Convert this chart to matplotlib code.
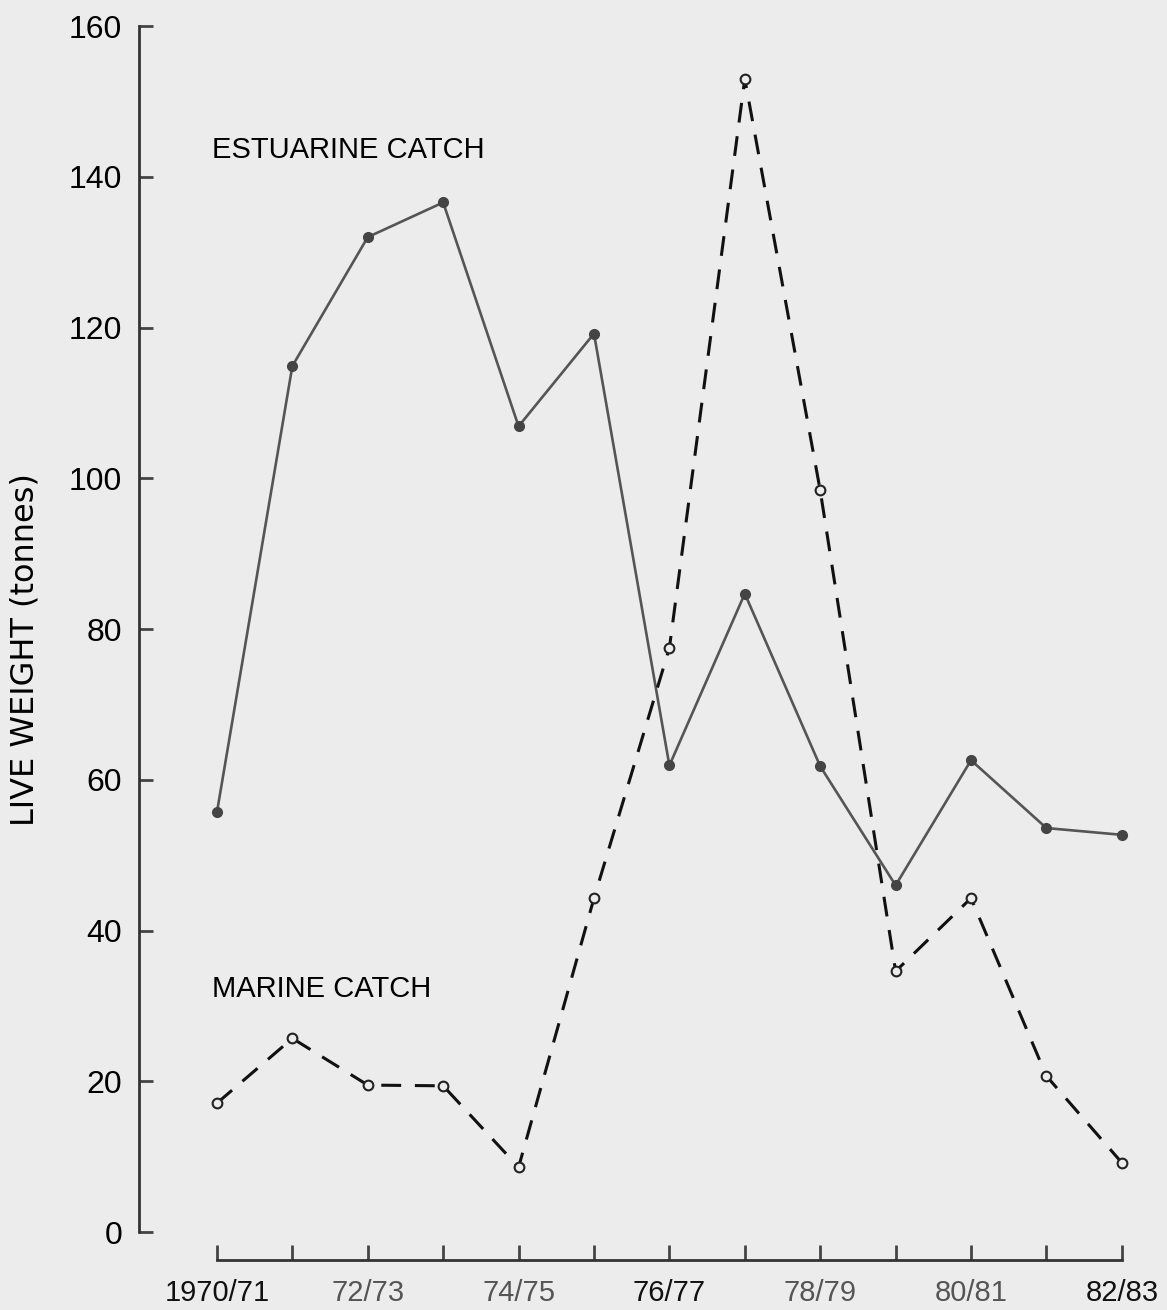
import matplotlib
matplotlib.use("Agg")
import matplotlib.pyplot as plt

seasons = ["1970/71", "", "72/73", "", "74/75", "", "76/77", "", "78/79", "", "80/81", "", "82/83"]
estuarine = [55.7, 114.9, 132.0, 136.6, 106.9, 119.2, 61.9, 84.7, 61.8, 46.0, 62.6, 53.6, 52.7]
marine = [17.1, 25.7, 19.5, 19.4, 8.6, 44.3, 77.5, 153.0, 98.4, 34.6, 44.3, 20.7, 9.2]
yticks = [0, 20, 40, 60, 80, 100, 120, 140, 160]
label_dark = ["1970/71", "76/77", "82/83"]

plt.rcParams["font.family"] = ["Liberation Sans", "DejaVu Sans"]
bg = "#ececec"

fig = plt.figure(figsize=(11.67, 13.10), dpi=100, facecolor=bg)
ax = fig.add_axes([0.1191, 0.0595, 0.8577, 0.9206], facecolor=bg)

x = list(range(len(seasons)))
ax.plot(x, estuarine, color="#555555", lw=1.9, marker="o", ms=7,
        mfc="#444444", mec="#444444", zorder=3)
ax.plot(x, marine, color="#111111", lw=2.2, ls=(0, (6.5, 4.5)), marker="o", ms=7,
        mfc=bg, mec="#222222", mew=1.5, zorder=4)

ax.set_xlim(-1.034, 12.24)
ax.set_ylim(0, 160)

for side in ("top", "right"):
    ax.spines[side].set_visible(False)
ax.spines["left"].set_bounds(0, 160)
ax.spines["bottom"].set_bounds(0, 12)
ax.spines["bottom"].set_position(("outward", 20))
for side in ("left", "bottom"):
    ax.spines[side].set_linewidth(2.0)
    ax.spines[side].set_color("#333333")

ax.set_yticks(yticks)
ax.set_yticklabels([str(v) for v in yticks])
ax.tick_params(axis="y", direction="in", length=10, width=2, color="#444444",
               pad=12, labelsize=23)
ax.set_xticks(x)
ax.set_xticklabels(seasons)
ax.tick_params(axis="x", direction="in", length=11, width=2, color="#444444",
               pad=14, labelsize=21)
for lab in ax.get_xticklabels():
    lab.set_color("#111111" if lab.get_text() in label_dark else "#555555")

ax.set_ylabel("LIVE WEIGHT (tonnes)", fontsize=23, family="DejaVu Sans")
ax.yaxis.set_label_coords(-0.098, 0.483)

ax.text(-0.07, 143.5, "ESTUARINE CATCH", fontsize=21, va="center", ha="left")
ax.text(-0.07, 32.2, "MARINE CATCH", fontsize=21, va="center", ha="left")

fig.savefig("out.png", dpi=100, facecolor=bg)
